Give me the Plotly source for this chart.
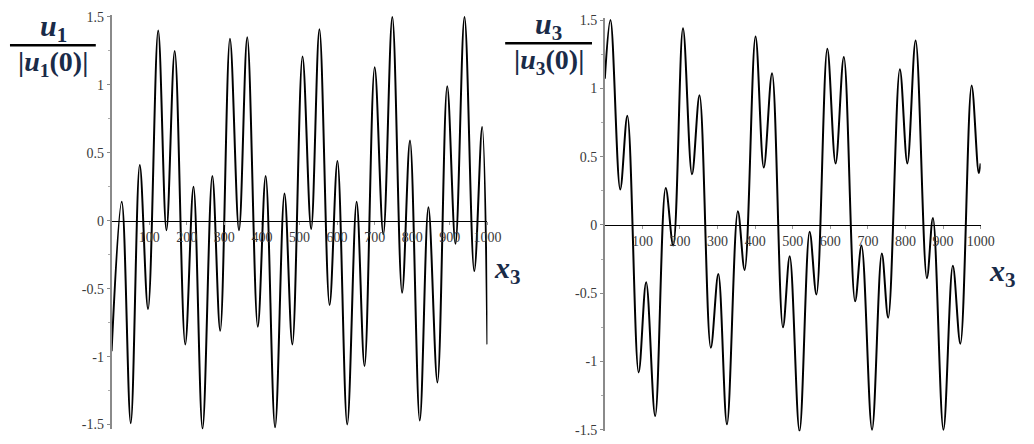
import plotly.graph_objects as go

# ---- data (local extrema) ----
u1_x = [0, 27, 51, 75, 97, 124, 146, 168, 196, 218, 242, 268, 289, 315, 339, 361, 389, 410,
        435, 460, 481, 508, 531, 553, 580, 601, 627, 652, 673, 700, 723, 747, 773, 794, 820,
        843, 867, 893, 915, 939, 965, 986, 1000]
u1_y = [-0.96, 0.14, -1.49, 0.41, -0.65, 1.40, -0.07, 1.25, -0.91, 0.25, -1.53, 0.33, -0.81,
        1.34, -0.07, 1.35, -0.78, 0.33, -1.52, 0.20, -0.91, 1.21, -0.06, 1.41, -0.62, 0.44,
        -1.50, 0.14, -1.07, 1.13, -0.10, 1.50, -0.53, 0.59, -1.47, 0.10, -1.19, 0.99, -0.17,
        1.50, -0.37, 0.69, -0.91]

u3_x = [0, 15, 41, 60, 90, 110, 134, 162, 182, 208, 232, 252, 282, 302, 325, 354, 372, 401,
        423, 445, 474, 492, 518, 545, 563, 592, 614, 636, 666, 683, 711, 737, 754, 785, 805,
        827, 857, 873, 901, 926, 946, 976, 995, 1000]
u3_y = [1.07, 1.50, 0.26, 0.80, -1.08, -0.42, -1.40, 0.27, -0.15, 1.44, 0.37, 0.95, -0.90,
        -0.36, -1.46, 0.10, -0.33, 1.38, 0.42, 1.11, -0.75, -0.23, -1.51, -0.05, -0.51, 1.29,
        0.45, 1.23, -0.56, -0.15, -1.50, -0.21, -0.68, 1.14, 0.45, 1.35, -0.39, 0.05, -1.50,
        -0.30, -0.87, 1.02, 0.38, 0.45]

x_tickvals = [100, 200, 300, 400, 500, 600, 700, 800, 900, 1000]
x_ticktext = ["100", "200", "300", "400", "500", "600", "700", "800", "900", "1000"]
y_tickvals = [1.5, 1, 0.5, 0, -0.5, -1, -1.5]
y_ticktext = ["1.5", "1", "0.5", "0", "-0.5", "-1", "-1.5"]

W, H = 1034, 444
OFF = 8  # default page body margin in front of the plot div
TICKFONT = dict(family="Liberation Serif", size=14, color="#3a3a3a")
LABEL_COLOR = "#1a2b48"


def px_x(p):
    return (p - OFF) / W


def px_y(p):
    return (H - (p - OFF)) / H


fig = go.Figure()
fig.add_trace(go.Scatter(x=u1_x, y=u1_y, mode="lines", line=dict(color="black", width=2, shape="spline"),
                         xaxis="x", yaxis="y", showlegend=False, hoverinfo="skip"))
fig.add_trace(go.Scatter(x=u3_x, y=u3_y, mode="lines", line=dict(color="black", width=2, shape="spline"),
                         xaxis="x2", yaxis="y2", showlegend=False, hoverinfo="skip"))

panels = [
    dict(xd=(113, 494), yd=(10, 435), yr=(-1.536, 1.515)),
    dict(xd=(613, 994), yd=(13, 437), yr=(-1.512, 1.516)),
]

layout = dict(width=W, height=H, margin=dict(l=0, r=0, t=0, b=0),
              paper_bgcolor="white", plot_bgcolor="white", showlegend=False)

for i, p in enumerate(panels):
    sfx = "" if i == 0 else str(i + 1)
    xdom = [px_x(p["xd"][0]), px_x(p["xd"][1])]
    ydom = [px_y(p["yd"][1]), px_y(p["yd"][0])]
    r0, r1 = p["yr"]
    zero_pos = ydom[0] + (0 - r0) / (r1 - r0) * (ydom[1] - ydom[0])
    layout["xaxis" + sfx] = dict(
        domain=xdom, range=[0, 1000], anchor="free", position=zero_pos,
        showline=True, linecolor="black", linewidth=1.2, showgrid=False, zeroline=False,
        tickmode="array", tickvals=x_tickvals, ticktext=x_ticktext,
        ticks="outside", ticklen=3, tickcolor="#999999", tickwidth=1,
        tickfont=TICKFONT, fixedrange=True,
    )
    layout["yaxis" + sfx] = dict(
        domain=ydom, range=[r0, r1], anchor="x" + sfx,
        showline=True, linecolor="#8a8a8a", linewidth=1.5, showgrid=False, zeroline=False,
        tickmode="array", tickvals=y_tickvals, ticktext=y_ticktext,
        ticks="outside", ticklen=3, tickcolor="#8a8a8a", tickwidth=1,
        minor=dict(ticks="outside", ticklen=2, tickcolor="#aaaaaa", dtick=0.25),
        tickfont=TICKFONT, fixedrange=True,
    )

fig.update_layout(**layout)

NFONT = dict(family="Liberation Serif", size=30, color=LABEL_COLOR)
DFONT = dict(family="Liberation Serif", size=28, color=LABEL_COLOR)
annotations = []
shapes = []
fracs = [
    dict(cx=54, num_y=23, bar=(10, 97, 41), den_y=60, idx="1"),
    dict(cx=556, num_y=21, bar=(512, 600, 39), den_y=58, idx="3"),
]
for f in fracs:
    annotations.append(dict(xref="paper", yref="paper", x=px_x(f["cx"]), y=px_y(f["num_y"]),
                            text="<b><i>u</i><sub>%s</sub></b>" % f["idx"], showarrow=False,
                            xanchor="center", yanchor="middle", font=NFONT))
    annotations.append(dict(xref="paper", yref="paper", x=px_x(f["cx"]), y=px_y(f["den_y"]),
                            text="<b>|<i>u</i><sub>%s</sub>(0)|</b>" % f["idx"], showarrow=False,
                            xanchor="center", yanchor="middle", font=DFONT))
    x0, x1, yb = f["bar"]
    shapes.append(dict(type="line", xref="paper", yref="paper", x0=px_x(x0), x1=px_x(x1),
                       y0=px_y(yb), y1=px_y(yb), line=dict(color="black", width=2.5)))

for cx, cy in [(514, 272), (1016, 275)]:
    annotations.append(dict(xref="paper", yref="paper", x=px_x(cx), y=px_y(cy),
                            text="<b><i>x</i><sub>3</sub></b>", showarrow=False,
                            xanchor="center", yanchor="middle",
                            font=dict(family="Liberation Serif", size=30, color=LABEL_COLOR)))

fig.update_layout(annotations=annotations, shapes=shapes)
fig.write_html("out.html", config=dict(displayModeBar=False))
